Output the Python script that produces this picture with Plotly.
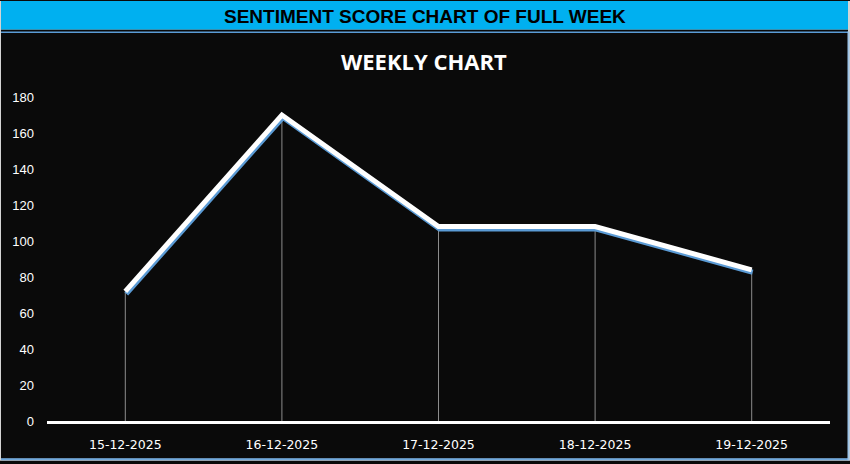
import plotly.graph_objects as go

dates = ["15-12-2025", "16-12-2025", "17-12-2025", "18-12-2025", "19-12-2025"]
scores = [72, 170, 108, 108, 84]
y_ticks = [0, 20, 40, 60, 80, 100, 120, 140, 160, 180]

W, H = 850, 464
ML, MR, MT, MB = 47, 20, 97, 40
PW = W - ML - MR
PH = H - MT - MB


def px(x):
    return (x - ML) / PW


def py(y):
    return (H - MB - y) / PH


fig = go.Figure()

# drop lines from each point to the axis
dx, dy = [], []
for d, v in zip(dates, scores):
    dx += [d, d, None]
    dy += [0, v, None]
fig.add_trace(go.Scatter(x=dx, y=dy, mode="lines",
                         line=dict(color="#8c8c8c", width=1),
                         hoverinfo="skip", showlegend=False))

# blue shadow (on shifted overlay axes)
fig.add_trace(go.Scatter(x=dates, y=scores, mode="lines",
                         line=dict(color="#5B9BD5", width=5),
                         xaxis="x2", yaxis="y2",
                         hoverinfo="skip", showlegend=False))

# main white line (on unshifted overlay axes drawn on top)
fig.add_trace(go.Scatter(x=dates, y=scores, mode="lines",
                         line=dict(color="#FFFFFF", width=5),
                         xaxis="x3", yaxis="y3",
                         showlegend=False))

shapes = [
    dict(type="rect", xref="paper", yref="paper", x0=px(0), x1=px(W), y0=py(H), y1=py(0),
         fillcolor="#d4d4d4", line=dict(width=0), layer="below"),
    dict(type="rect", xref="paper", yref="paper", x0=px(1), x1=px(848), y0=py(462), y1=py(29),
         fillcolor="#0A0A0A", line=dict(width=0), layer="below"),
    dict(type="rect", xref="paper", yref="paper", x0=px(1), x1=px(848), y0=py(29), y1=py(0),
         fillcolor="#00B0F0", line=dict(width=0), layer="below"),
    dict(type="rect", xref="paper", yref="paper", x0=px(1), x1=px(848), y0=py(32.5), y1=py(31),
         fillcolor="#5B9BD5", line=dict(width=0), layer="below"),
    dict(type="rect", xref="paper", yref="paper", x0=px(1), x1=px(849), y0=py(463.5), y1=py(461.5),
         fillcolor="#6FA8DC", line=dict(width=0), layer="below"),
    dict(type="rect", xref="paper", yref="paper", x0=px(847.5), x1=px(849.5), y0=py(463.5), y1=py(31),
         fillcolor="#9DC3E6", line=dict(width=0), layer="below"),
]

annotations = [
    dict(text="<b>SENTIMENT SCORE CHART OF FULL WEEK</b>", xref="paper", yref="paper",
         x=px(425), y=py(16), xanchor="center", yanchor="middle", showarrow=False,
         font=dict(family="Liberation Sans", size=19, color="#000000")),
    dict(text="<b>WEEKLY CHART</b>", xref="paper", yref="paper",
         x=px(424), y=py(61), xanchor="center", yanchor="middle", showarrow=False,
         font=dict(family="Open Sans", size=22, color="#FFFFFF")),
]

xr = [-0.5, 4.5]
yr = [0, 180]
sx = 1 / (PW / 5)
sy = 2.5 * 180 / PH
fig.update_layout(
    width=W, height=H,
    margin=dict(l=ML, r=MR, t=MT, b=MB),
    paper_bgcolor="#0A0A0A",
    plot_bgcolor="rgba(0,0,0,0)",
    shapes=shapes,
    annotations=annotations,
    xaxis=dict(type="category", range=xr, showgrid=False, zeroline=False,
               showline=True, linecolor="#FFFFFF", linewidth=2.5,
               tickfont=dict(family="DejaVu Sans", size=12.5, color="#FFFFFF"),
               ticks="", ticklabelstandoff=10, fixedrange=True),
    yaxis=dict(range=yr, tickvals=y_ticks, showgrid=False, zeroline=False,
               showline=False,
               tickfont=dict(family="Liberation Sans", size=13, color="#FFFFFF"),
               ticks="", ticklabelstandoff=12, fixedrange=True),
    xaxis2=dict(type="category", overlaying="x", range=[xr[0] - sx, xr[1] - sx],
                visible=False, fixedrange=True),
    yaxis2=dict(overlaying="y", range=[yr[0] + sy, yr[1] + sy],
                visible=False, fixedrange=True),
    xaxis3=dict(type="category", overlaying="x", range=xr, visible=False, fixedrange=True),
    yaxis3=dict(overlaying="y", range=yr, visible=False, fixedrange=True),
    showlegend=False,
)

fig.write_html("out.html", config={"displayModeBar": False},
               post_script="document.body.style.margin='0';")
